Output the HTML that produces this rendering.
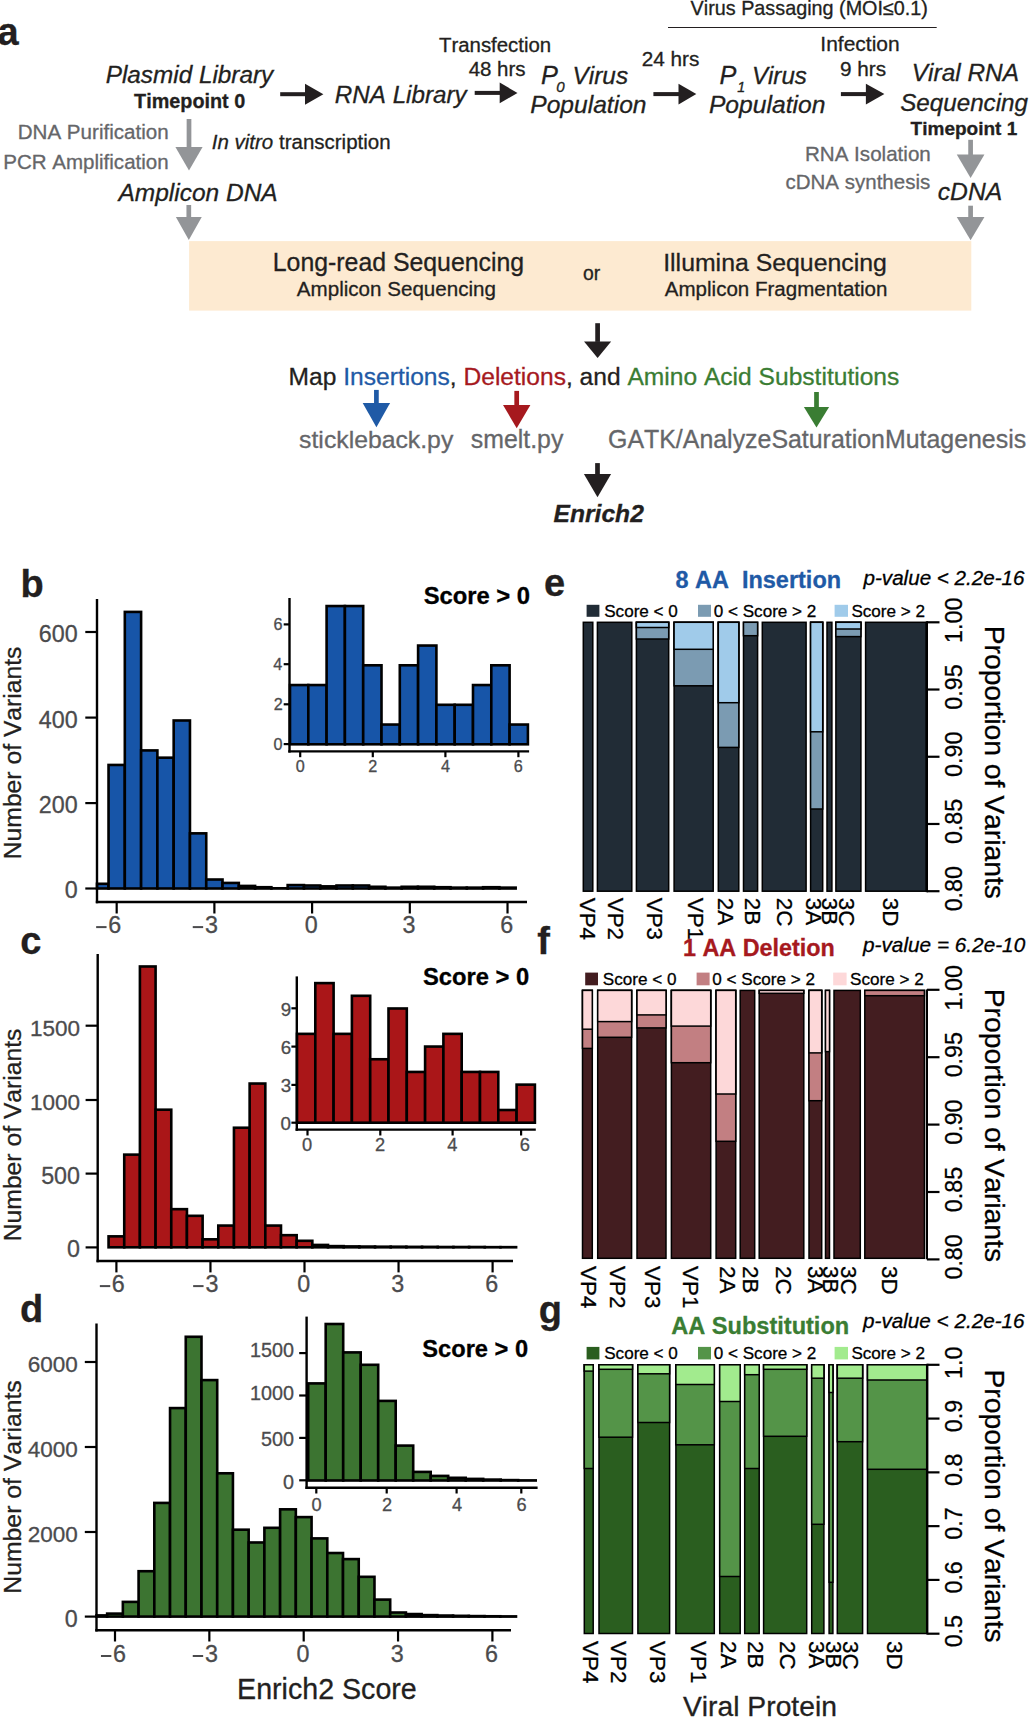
<!DOCTYPE html>
<html><head><meta charset="utf-8"><style>
html,body{margin:0;padding:0;background:#fff;}
svg{display:block;}
text{white-space:pre;font-family:"Liberation Sans",sans-serif;font-kerning:none;}
</style></head><body>
<svg width="1030" height="1717" viewBox="0 0 1030 1717">
<rect width="1030" height="1717" fill="#fff"/>
<text x="-2.48" y="44.65" font-size="38" font-weight="bold" fill="#231f20" stroke="#231f20" stroke-width="0.3">a</text>
<text x="105.75" y="83.40" font-size="24.31" font-weight="normal" font-style="italic" fill="#231f20" stroke="#231f20" stroke-width="0.3">Plasmid Library</text>
<text x="134.08" y="107.70" font-size="19.81" font-weight="bold" font-style="normal" fill="#231f20" stroke="#231f20" stroke-width="0.3">Timepoint 0</text>
<rect x="186.65" y="119.00" width="4.70" height="28.50" fill="#939598"/>
<polygon points="175.40,147.00 202.60,147.00 189.00,170.40" fill="#939598"/>
<text x="17.71" y="138.70" font-size="20.59" font-weight="normal" font-style="normal" fill="#656669" stroke="#656669" stroke-width="0.3">DNA Purification</text>
<text x="3.22" y="169.20" font-size="20.54" font-weight="normal" font-style="normal" fill="#656669" stroke="#656669" stroke-width="0.3">PCR Amplification</text>
<text x="211.76" y="148.5" font-size="20.5" fill="#231f20" stroke="#231f20" stroke-width="0.3"><tspan font-style="italic">In vitro </tspan>transcription</text>
<text x="118.41" y="200.50" font-size="24.50" font-weight="normal" font-style="italic" fill="#231f20" stroke="#231f20" stroke-width="0.3">Amplicon DNA</text>
<rect x="186.45" y="205.00" width="4.70" height="12.40" fill="#939598"/>
<polygon points="175.85,216.90 201.75,216.90 188.80,240.00" fill="#939598"/>
<rect x="280.20" y="92.20" width="25.30" height="4.00" fill="#231f20"/>
<polygon points="305.00,83.70 305.00,104.70 323.40,94.20" fill="#231f20"/>
<text x="334.86" y="102.80" font-size="24.19" font-weight="normal" font-style="italic" fill="#231f20" stroke="#231f20" stroke-width="0.3">RNA Library</text>
<text x="438.94" y="51.80" font-size="20.41" font-weight="normal" font-style="normal" fill="#231f20" stroke="#231f20" stroke-width="0.3">Transfection</text>
<text x="468.63" y="75.90" font-size="20.51" font-weight="normal" font-style="normal" fill="#231f20" stroke="#231f20" stroke-width="0.3">48 hrs</text>
<rect x="474.70" y="90.90" width="25.50" height="4.00" fill="#231f20"/>
<polygon points="499.70,82.60 499.70,103.20 517.50,92.90" fill="#231f20"/>
<text x="541.02" y="83.80" font-size="25.30" font-weight="normal" font-style="italic" fill="#231f20" stroke="#231f20" stroke-width="0.3">P</text>
<text x="556.14" y="92.30" font-size="15.10" font-weight="normal" font-style="italic" fill="#231f20" stroke="#231f20" stroke-width="0.3">0</text>
<text x="572.59" y="83.50" font-size="24.36" font-weight="normal" font-style="italic" fill="#231f20" stroke="#231f20" stroke-width="0.3">Virus</text>
<text x="530.24" y="113.20" font-size="24.62" font-weight="normal" font-style="italic" fill="#231f20" stroke="#231f20" stroke-width="0.3">Population</text>
<text x="690.61" y="14.50" font-size="19.79" font-weight="normal" font-style="normal" fill="#231f20" stroke="#231f20" stroke-width="0.3">Virus Passaging (MOI≤0.1)</text>
<line x1="668.00" y1="27.50" x2="936.70" y2="27.50" stroke="#231f20" stroke-width="1.2" stroke-linecap="butt"/>
<text x="641.66" y="66.30" font-size="20.76" font-weight="normal" font-style="normal" fill="#231f20" stroke="#231f20" stroke-width="0.3">24 hrs</text>
<rect x="653.40" y="92.10" width="25.60" height="4.00" fill="#231f20"/>
<polygon points="678.50,83.70 678.50,104.50 696.30,94.10" fill="#231f20"/>
<text x="719.42" y="83.80" font-size="25.30" font-weight="normal" font-style="italic" fill="#231f20" stroke="#231f20" stroke-width="0.3">P</text>
<text x="737.33" y="91.90" font-size="14.30" font-weight="normal" font-style="italic" fill="#231f20" stroke="#231f20" stroke-width="0.3">1</text>
<text x="751.91" y="83.70" font-size="24.13" font-weight="normal" font-style="italic" fill="#231f20" stroke="#231f20" stroke-width="0.3">Virus</text>
<text x="708.94" y="112.80" font-size="24.65" font-weight="normal" font-style="italic" fill="#231f20" stroke="#231f20" stroke-width="0.3">Population</text>
<text x="820.36" y="51.40" font-size="20.98" font-weight="normal" font-style="normal" fill="#231f20" stroke="#231f20" stroke-width="0.3">Infection</text>
<text x="839.93" y="75.90" font-size="20.75" font-weight="normal" font-style="normal" fill="#231f20" stroke="#231f20" stroke-width="0.3">9 hrs</text>
<rect x="840.90" y="92.10" width="25.50" height="4.00" fill="#231f20"/>
<polygon points="865.90,83.70 865.90,104.50 884.40,94.10" fill="#231f20"/>
<text x="911.79" y="80.80" font-size="24.43" font-weight="normal" font-style="italic" fill="#231f20" stroke="#231f20" stroke-width="0.3">Viral RNA</text>
<text x="900.21" y="110.50" font-size="24.20" font-weight="normal" font-style="italic" fill="#231f20" stroke="#231f20" stroke-width="0.3">Sequencing</text>
<text x="910.59" y="134.80" font-size="19.02" font-weight="bold" font-style="normal" fill="#231f20" stroke="#231f20" stroke-width="0.3">Timepoint 1</text>
<rect x="968.25" y="139.80" width="4.70" height="15.20" fill="#939598"/>
<polygon points="956.75,154.50 984.45,154.50 970.60,177.90" fill="#939598"/>
<text x="804.91" y="161.30" font-size="20.60" font-weight="normal" font-style="normal" fill="#656669" stroke="#656669" stroke-width="0.3">RNA Isolation</text>
<text x="785.53" y="189.00" font-size="20.50" font-weight="normal" font-style="normal" fill="#656669" stroke="#656669" stroke-width="0.3">cDNA synthesis</text>
<text x="937.79" y="199.90" font-size="24.67" font-weight="normal" font-style="italic" fill="#231f20" stroke="#231f20" stroke-width="0.3">cDNA</text>
<rect x="968.25" y="205.70" width="4.70" height="11.80" fill="#939598"/>
<polygon points="956.75,217.00 984.45,217.00 970.60,240.30" fill="#939598"/>
<rect x="189.10" y="241.10" width="782.20" height="69.50" fill="#fdead1"/>
<text x="272.76" y="271.40" font-size="24.85" font-weight="normal" font-style="normal" fill="#231f20" stroke="#231f20" stroke-width="0.3">Long-read Sequencing</text>
<text x="296.86" y="296.10" font-size="20.58" font-weight="normal" font-style="normal" fill="#231f20" stroke="#231f20" stroke-width="0.3">Amplicon Sequencing</text>
<text x="583.09" y="279.80" font-size="19.38" font-weight="normal" font-style="normal" fill="#231f20" stroke="#231f20" stroke-width="0.3">or</text>
<text x="663.21" y="271.30" font-size="24.84" font-weight="normal" font-style="normal" fill="#231f20" stroke="#231f20" stroke-width="0.3">Illumina Sequencing</text>
<text x="664.76" y="296.00" font-size="20.56" font-weight="normal" font-style="normal" fill="#231f20" stroke="#231f20" stroke-width="0.3">Amplicon Fragmentation</text>
<rect x="595.25" y="323.20" width="4.70" height="18.70" fill="#231f20"/>
<polygon points="584.05,341.40 611.15,341.40 597.60,357.90" fill="#231f20"/>
<text x="288.58" y="385.3" font-size="24.59"><tspan fill="#231f20" stroke="#231f20" stroke-width="0.3">Map </tspan><tspan fill="#1f5aa6" stroke="#1f5aa6" stroke-width="0.3">Insertions</tspan><tspan fill="#231f20" stroke="#231f20" stroke-width="0.3">, </tspan><tspan fill="#a6191e" stroke="#a6191e" stroke-width="0.3">Deletions</tspan><tspan fill="#231f20" stroke="#231f20" stroke-width="0.3">, and </tspan><tspan fill="#3a7d33" stroke="#3a7d33" stroke-width="0.3">Amino Acid Substitutions</tspan></text>
<rect x="374.05" y="389.90" width="4.70" height="13.70" fill="#1f5aa6"/>
<polygon points="362.70,403.10 390.10,403.10 376.40,427.20" fill="#1f5aa6"/>
<rect x="514.35" y="390.90" width="4.70" height="14.60" fill="#a6191e"/>
<polygon points="503.00,405.00 530.40,405.00 516.70,428.20" fill="#a6191e"/>
<rect x="814.15" y="392.00" width="4.70" height="15.50" fill="#3a7d33"/>
<polygon points="803.90,407.00 829.10,407.00 816.50,427.60" fill="#3a7d33"/>
<text x="299.11" y="448.00" font-size="24.78" font-weight="normal" font-style="normal" fill="#656669" stroke="#656669" stroke-width="0.3">stickleback.py</text>
<text x="470.81" y="448.00" font-size="24.86" font-weight="normal" font-style="normal" fill="#656669" stroke="#656669" stroke-width="0.3">smelt.py</text>
<text x="608.05" y="448.10" font-size="24.92" font-weight="normal" font-style="normal" fill="#656669" stroke="#656669" stroke-width="0.3">GATK/AnalyzeSaturationMutagenesis</text>
<rect x="595.15" y="463.10" width="4.70" height="11.40" fill="#231f20"/>
<polygon points="583.90,474.00 611.10,474.00 597.50,497.30" fill="#231f20"/>
<text x="553.57" y="522.40" font-size="24.61" font-weight="bold" font-style="italic" fill="#231f20" stroke="#231f20" stroke-width="0.3">Enrich2</text>
<text x="20.62" y="596.64" font-size="38" font-weight="bold" fill="#231f20" stroke="#231f20" stroke-width="0.3">b</text>
<rect x="97.00" y="883.80" width="11.54" height="4.70" fill="#1755a8" stroke="#000" stroke-width="2.6"/>
<rect x="108.54" y="764.95" width="16.28" height="123.55" fill="#1755a8" stroke="#000" stroke-width="2.6"/>
<rect x="124.82" y="611.91" width="16.28" height="276.59" fill="#1755a8" stroke="#000" stroke-width="2.6"/>
<rect x="141.11" y="750.42" width="16.28" height="138.08" fill="#1755a8" stroke="#000" stroke-width="2.6"/>
<rect x="157.39" y="757.68" width="16.28" height="130.82" fill="#1755a8" stroke="#000" stroke-width="2.6"/>
<rect x="173.68" y="720.49" width="16.28" height="168.01" fill="#1755a8" stroke="#000" stroke-width="2.6"/>
<rect x="189.96" y="833.35" width="16.28" height="55.15" fill="#1755a8" stroke="#000" stroke-width="2.6"/>
<rect x="206.25" y="879.52" width="16.28" height="8.98" fill="#1755a8" stroke="#000" stroke-width="2.6"/>
<rect x="222.53" y="882.94" width="16.28" height="5.56" fill="#1755a8" stroke="#000" stroke-width="2.6"/>
<rect x="238.82" y="885.93" width="16.28" height="2.57" fill="#1755a8" stroke="#000" stroke-width="2.6"/>
<rect x="255.10" y="887.22" width="16.29" height="1.28" fill="#1755a8" stroke="#000" stroke-width="2.6"/>
<rect x="271.39" y="888.29" width="16.29" height="0.21" fill="#1755a8" stroke="#000" stroke-width="2.6"/>
<rect x="287.67" y="885.08" width="16.29" height="3.42" fill="#1755a8" stroke="#000" stroke-width="2.6"/>
<rect x="303.96" y="885.51" width="16.29" height="2.99" fill="#1755a8" stroke="#000" stroke-width="2.6"/>
<rect x="320.24" y="886.36" width="16.29" height="2.14" fill="#1755a8" stroke="#000" stroke-width="2.6"/>
<rect x="336.53" y="885.51" width="16.29" height="2.99" fill="#1755a8" stroke="#000" stroke-width="2.6"/>
<rect x="352.81" y="885.51" width="16.29" height="2.99" fill="#1755a8" stroke="#000" stroke-width="2.6"/>
<rect x="369.10" y="886.79" width="16.29" height="1.71" fill="#1755a8" stroke="#000" stroke-width="2.6"/>
<rect x="385.38" y="887.64" width="16.29" height="0.86" fill="#1755a8" stroke="#000" stroke-width="2.6"/>
<rect x="401.67" y="886.79" width="16.29" height="1.71" fill="#1755a8" stroke="#000" stroke-width="2.6"/>
<rect x="417.95" y="886.79" width="16.29" height="1.71" fill="#1755a8" stroke="#000" stroke-width="2.6"/>
<rect x="434.24" y="887.22" width="16.29" height="1.28" fill="#1755a8" stroke="#000" stroke-width="2.6"/>
<rect x="450.52" y="887.64" width="16.29" height="0.86" fill="#1755a8" stroke="#000" stroke-width="2.6"/>
<rect x="466.81" y="887.64" width="16.29" height="0.86" fill="#1755a8" stroke="#000" stroke-width="2.6"/>
<rect x="483.09" y="887.22" width="16.29" height="1.28" fill="#1755a8" stroke="#000" stroke-width="2.6"/>
<rect x="499.38" y="887.64" width="16.28" height="0.86" fill="#1755a8" stroke="#000" stroke-width="2.6"/>
<line x1="97.00" y1="599.00" x2="97.00" y2="903.20" stroke="#000" stroke-width="2.4" stroke-linecap="butt"/>
<line x1="95.80" y1="902.00" x2="527.00" y2="902.00" stroke="#000" stroke-width="2.4" stroke-linecap="butt"/>
<line x1="85.30" y1="888.50" x2="97.00" y2="888.50" stroke="#000" stroke-width="2.2" stroke-linecap="butt"/>
<text x="64.75" y="898.40" font-size="23.30" font-weight="normal" font-style="normal" fill="#4b4b4d" stroke="#4b4b4d" stroke-width="0.3">0</text>
<line x1="85.30" y1="803.10" x2="97.00" y2="803.10" stroke="#000" stroke-width="2.2" stroke-linecap="butt"/>
<text x="38.84" y="813.00" font-size="23.30" font-weight="normal" font-style="normal" fill="#4b4b4d" stroke="#4b4b4d" stroke-width="0.3">200</text>
<line x1="85.30" y1="717.60" x2="97.00" y2="717.60" stroke="#000" stroke-width="2.2" stroke-linecap="butt"/>
<text x="38.84" y="727.50" font-size="23.30" font-weight="normal" font-style="normal" fill="#4b4b4d" stroke="#4b4b4d" stroke-width="0.3">400</text>
<line x1="85.30" y1="632.00" x2="97.00" y2="632.00" stroke="#000" stroke-width="2.2" stroke-linecap="butt"/>
<text x="38.84" y="641.90" font-size="23.30" font-weight="normal" font-style="normal" fill="#4b4b4d" stroke="#4b4b4d" stroke-width="0.3">600</text>
<line x1="116.68" y1="902.00" x2="116.68" y2="913.50" stroke="#000" stroke-width="2.2" stroke-linecap="butt"/>
<text x="108.17" y="933.00" font-size="23.30" font-weight="normal" font-style="normal" fill="#4b4b4d" stroke="#4b4b4d" stroke-width="0.3">6</text>
<rect x="96.15" y="926.10" width="10.40" height="2.00" fill="#4b4b4d"/>
<line x1="214.39" y1="902.00" x2="214.39" y2="913.50" stroke="#000" stroke-width="2.2" stroke-linecap="butt"/>
<text x="205.07" y="933.00" font-size="23.30" font-weight="normal" font-style="normal" fill="#4b4b4d" stroke="#4b4b4d" stroke-width="0.3">3</text>
<rect x="192.75" y="926.10" width="10.40" height="2.00" fill="#4b4b4d"/>
<line x1="312.10" y1="902.00" x2="312.10" y2="913.50" stroke="#000" stroke-width="2.2" stroke-linecap="butt"/>
<text x="304.82" y="933.00" font-size="23.30" font-weight="normal" font-style="normal" fill="#4b4b4d" stroke="#4b4b4d" stroke-width="0.3">0</text>
<line x1="409.81" y1="902.00" x2="409.81" y2="913.50" stroke="#000" stroke-width="2.2" stroke-linecap="butt"/>
<text x="402.60" y="933.00" font-size="23.30" font-weight="normal" font-style="normal" fill="#4b4b4d" stroke="#4b4b4d" stroke-width="0.3">3</text>
<line x1="507.52" y1="902.00" x2="507.52" y2="913.50" stroke="#000" stroke-width="2.2" stroke-linecap="butt"/>
<text x="500.16" y="933.00" font-size="23.30" font-weight="normal" font-style="normal" fill="#4b4b4d" stroke="#4b4b4d" stroke-width="0.3">6</text>
<rect x="290.00" y="685.05" width="18.30" height="59.25" fill="#1755a8" stroke="#000" stroke-width="2.6"/>
<rect x="308.30" y="685.05" width="18.30" height="59.25" fill="#1755a8" stroke="#000" stroke-width="2.6"/>
<rect x="326.60" y="606.05" width="18.30" height="138.25" fill="#1755a8" stroke="#000" stroke-width="2.6"/>
<rect x="344.90" y="606.05" width="18.30" height="138.25" fill="#1755a8" stroke="#000" stroke-width="2.6"/>
<rect x="363.20" y="665.30" width="18.30" height="79.00" fill="#1755a8" stroke="#000" stroke-width="2.6"/>
<rect x="381.50" y="724.55" width="18.30" height="19.75" fill="#1755a8" stroke="#000" stroke-width="2.6"/>
<rect x="399.80" y="665.30" width="18.30" height="79.00" fill="#1755a8" stroke="#000" stroke-width="2.6"/>
<rect x="418.10" y="645.55" width="18.30" height="98.75" fill="#1755a8" stroke="#000" stroke-width="2.6"/>
<rect x="436.40" y="704.80" width="18.30" height="39.50" fill="#1755a8" stroke="#000" stroke-width="2.6"/>
<rect x="454.70" y="704.80" width="18.30" height="39.50" fill="#1755a8" stroke="#000" stroke-width="2.6"/>
<rect x="473.00" y="685.05" width="18.30" height="59.25" fill="#1755a8" stroke="#000" stroke-width="2.6"/>
<rect x="491.30" y="665.30" width="18.30" height="79.00" fill="#1755a8" stroke="#000" stroke-width="2.6"/>
<rect x="509.60" y="724.55" width="18.30" height="19.75" fill="#1755a8" stroke="#000" stroke-width="2.6"/>
<line x1="289.50" y1="598.00" x2="289.50" y2="752.60" stroke="#000" stroke-width="2.4" stroke-linecap="butt"/>
<line x1="288.30" y1="751.40" x2="529.10" y2="751.40" stroke="#000" stroke-width="2.4" stroke-linecap="butt"/>
<line x1="283.70" y1="744.10" x2="289.50" y2="744.10" stroke="#000" stroke-width="2.2" stroke-linecap="butt"/>
<text x="273.52" y="749.70" font-size="16.20" font-weight="normal" font-style="normal" fill="#4b4b4d" stroke="#4b4b4d" stroke-width="0.3">0</text>
<line x1="283.70" y1="704.30" x2="289.50" y2="704.30" stroke="#000" stroke-width="2.2" stroke-linecap="butt"/>
<text x="273.71" y="709.90" font-size="16.20" font-weight="normal" font-style="normal" fill="#4b4b4d" stroke="#4b4b4d" stroke-width="0.3">2</text>
<line x1="283.70" y1="664.20" x2="289.50" y2="664.20" stroke="#000" stroke-width="2.2" stroke-linecap="butt"/>
<text x="273.36" y="669.80" font-size="16.20" font-weight="normal" font-style="normal" fill="#4b4b4d" stroke="#4b4b4d" stroke-width="0.3">4</text>
<line x1="283.70" y1="624.40" x2="289.50" y2="624.40" stroke="#000" stroke-width="2.2" stroke-linecap="butt"/>
<text x="273.60" y="630.00" font-size="16.20" font-weight="normal" font-style="normal" fill="#4b4b4d" stroke="#4b4b4d" stroke-width="0.3">6</text>
<line x1="300.20" y1="751.40" x2="300.20" y2="757.20" stroke="#000" stroke-width="2.2" stroke-linecap="butt"/>
<text x="295.70" y="771.50" font-size="16.20" font-weight="normal" font-style="normal" fill="#4b4b4d" stroke="#4b4b4d" stroke-width="0.3">0</text>
<line x1="372.80" y1="751.40" x2="372.80" y2="757.20" stroke="#000" stroke-width="2.2" stroke-linecap="butt"/>
<text x="368.30" y="771.50" font-size="16.20" font-weight="normal" font-style="normal" fill="#4b4b4d" stroke="#4b4b4d" stroke-width="0.3">2</text>
<line x1="445.40" y1="751.40" x2="445.40" y2="757.20" stroke="#000" stroke-width="2.2" stroke-linecap="butt"/>
<text x="440.95" y="771.50" font-size="16.20" font-weight="normal" font-style="normal" fill="#4b4b4d" stroke="#4b4b4d" stroke-width="0.3">4</text>
<line x1="518.40" y1="751.40" x2="518.40" y2="757.20" stroke="#000" stroke-width="2.2" stroke-linecap="butt"/>
<text x="513.84" y="771.50" font-size="16.20" font-weight="normal" font-style="normal" fill="#4b4b4d" stroke="#4b4b4d" stroke-width="0.3">6</text>
<text x="423.72" y="604.00" font-size="23.77" font-weight="bold" font-style="normal" fill="#000" stroke="#000" stroke-width="0.3">Score &gt; 0</text>
<text transform="translate(21.40,859.23) rotate(-90)" font-size="24.70" font-weight="normal" font-style="normal" fill="#231f20" stroke="#231f20" stroke-width="0.3">Number of Variants</text>
<text x="20.30" y="953.55" font-size="38" font-weight="bold" fill="#231f20" stroke="#231f20" stroke-width="0.3">c</text>
<rect x="108.56" y="1236.36" width="15.67" height="10.94" fill="#aa1618" stroke="#000" stroke-width="2.6"/>
<rect x="124.24" y="1154.63" width="15.67" height="92.67" fill="#aa1618" stroke="#000" stroke-width="2.6"/>
<rect x="139.91" y="966.48" width="15.68" height="280.82" fill="#aa1618" stroke="#000" stroke-width="2.6"/>
<rect x="155.59" y="1109.70" width="15.68" height="137.60" fill="#aa1618" stroke="#000" stroke-width="2.6"/>
<rect x="171.26" y="1209.17" width="15.68" height="38.13" fill="#aa1618" stroke="#000" stroke-width="2.6"/>
<rect x="186.94" y="1215.82" width="15.68" height="31.48" fill="#aa1618" stroke="#000" stroke-width="2.6"/>
<rect x="202.61" y="1239.32" width="15.68" height="7.98" fill="#aa1618" stroke="#000" stroke-width="2.6"/>
<rect x="218.29" y="1225.57" width="15.68" height="21.73" fill="#aa1618" stroke="#000" stroke-width="2.6"/>
<rect x="233.96" y="1127.73" width="15.68" height="119.57" fill="#aa1618" stroke="#000" stroke-width="2.6"/>
<rect x="249.64" y="1083.54" width="15.67" height="163.76" fill="#aa1618" stroke="#000" stroke-width="2.6"/>
<rect x="265.31" y="1225.57" width="15.68" height="21.73" fill="#aa1618" stroke="#000" stroke-width="2.6"/>
<rect x="280.99" y="1235.18" width="15.68" height="12.12" fill="#aa1618" stroke="#000" stroke-width="2.6"/>
<rect x="296.66" y="1240.80" width="15.68" height="6.50" fill="#aa1618" stroke="#000" stroke-width="2.6"/>
<rect x="312.34" y="1244.94" width="15.68" height="2.36" fill="#aa1618" stroke="#000" stroke-width="2.6"/>
<rect x="328.01" y="1246.12" width="15.68" height="1.18" fill="#aa1618" stroke="#000" stroke-width="2.6"/>
<rect x="343.69" y="1246.41" width="15.68" height="0.89" fill="#aa1618" stroke="#000" stroke-width="2.6"/>
<rect x="359.36" y="1246.56" width="15.68" height="0.74" fill="#aa1618" stroke="#000" stroke-width="2.6"/>
<rect x="375.04" y="1246.71" width="15.68" height="0.59" fill="#aa1618" stroke="#000" stroke-width="2.6"/>
<rect x="390.71" y="1246.71" width="15.68" height="0.59" fill="#aa1618" stroke="#000" stroke-width="2.6"/>
<rect x="406.39" y="1246.86" width="15.68" height="0.44" fill="#aa1618" stroke="#000" stroke-width="2.6"/>
<rect x="422.06" y="1246.86" width="15.68" height="0.44" fill="#aa1618" stroke="#000" stroke-width="2.6"/>
<rect x="437.74" y="1247.00" width="15.68" height="0.30" fill="#aa1618" stroke="#000" stroke-width="2.6"/>
<rect x="453.41" y="1247.00" width="15.68" height="0.30" fill="#aa1618" stroke="#000" stroke-width="2.6"/>
<rect x="469.09" y="1247.00" width="15.68" height="0.30" fill="#aa1618" stroke="#000" stroke-width="2.6"/>
<rect x="484.76" y="1247.15" width="15.68" height="0.15" fill="#aa1618" stroke="#000" stroke-width="2.6"/>
<rect x="500.44" y="1247.15" width="15.67" height="0.15" fill="#aa1618" stroke="#000" stroke-width="2.6"/>
<line x1="97.70" y1="954.00" x2="97.70" y2="1262.20" stroke="#000" stroke-width="2.4" stroke-linecap="butt"/>
<line x1="96.50" y1="1261.00" x2="513.00" y2="1261.00" stroke="#000" stroke-width="2.4" stroke-linecap="butt"/>
<line x1="85.60" y1="1247.40" x2="97.70" y2="1247.40" stroke="#000" stroke-width="2.2" stroke-linecap="butt"/>
<text x="67.05" y="1257.40" font-size="23.30" font-weight="normal" font-style="normal" fill="#4b4b4d" stroke="#4b4b4d" stroke-width="0.3">0</text>
<line x1="85.60" y1="1173.60" x2="97.70" y2="1173.60" stroke="#000" stroke-width="2.2" stroke-linecap="butt"/>
<text x="41.14" y="1183.60" font-size="23.30" font-weight="normal" font-style="normal" fill="#4b4b4d" stroke="#4b4b4d" stroke-width="0.3">500</text>
<line x1="85.60" y1="1100.00" x2="97.70" y2="1100.00" stroke="#000" stroke-width="2.2" stroke-linecap="butt"/>
<text x="29.93" y="1110.00" font-size="22.50" font-weight="normal" font-style="normal" fill="#4b4b4d" stroke="#4b4b4d" stroke-width="0.3">1000</text>
<line x1="85.60" y1="1025.70" x2="97.70" y2="1025.70" stroke="#000" stroke-width="2.2" stroke-linecap="butt"/>
<text x="29.93" y="1035.70" font-size="22.50" font-weight="normal" font-style="normal" fill="#4b4b4d" stroke="#4b4b4d" stroke-width="0.3">1500</text>
<line x1="116.40" y1="1261.00" x2="116.40" y2="1272.40" stroke="#000" stroke-width="2.2" stroke-linecap="butt"/>
<text x="111.87" y="1292.00" font-size="23.30" font-weight="normal" font-style="normal" fill="#4b4b4d" stroke="#4b4b4d" stroke-width="0.3">6</text>
<rect x="99.85" y="1285.10" width="10.40" height="2.00" fill="#4b4b4d"/>
<line x1="210.45" y1="1261.00" x2="210.45" y2="1272.40" stroke="#000" stroke-width="2.2" stroke-linecap="butt"/>
<text x="205.47" y="1292.00" font-size="23.30" font-weight="normal" font-style="normal" fill="#4b4b4d" stroke="#4b4b4d" stroke-width="0.3">3</text>
<rect x="193.15" y="1285.10" width="10.40" height="2.00" fill="#4b4b4d"/>
<line x1="304.50" y1="1261.00" x2="304.50" y2="1272.40" stroke="#000" stroke-width="2.2" stroke-linecap="butt"/>
<text x="297.22" y="1292.00" font-size="23.30" font-weight="normal" font-style="normal" fill="#4b4b4d" stroke="#4b4b4d" stroke-width="0.3">0</text>
<line x1="398.55" y1="1261.00" x2="398.55" y2="1272.40" stroke="#000" stroke-width="2.2" stroke-linecap="butt"/>
<text x="391.34" y="1292.00" font-size="23.30" font-weight="normal" font-style="normal" fill="#4b4b4d" stroke="#4b4b4d" stroke-width="0.3">3</text>
<line x1="492.60" y1="1261.00" x2="492.60" y2="1272.40" stroke="#000" stroke-width="2.2" stroke-linecap="butt"/>
<text x="485.24" y="1292.00" font-size="23.30" font-weight="normal" font-style="normal" fill="#4b4b4d" stroke="#4b4b4d" stroke-width="0.3">6</text>
<rect x="297.00" y="1033.87" width="18.30" height="88.83" fill="#aa1618" stroke="#000" stroke-width="2.6"/>
<rect x="315.30" y="983.11" width="18.30" height="139.59" fill="#aa1618" stroke="#000" stroke-width="2.6"/>
<rect x="333.60" y="1033.87" width="18.30" height="88.83" fill="#aa1618" stroke="#000" stroke-width="2.6"/>
<rect x="351.90" y="995.80" width="18.30" height="126.90" fill="#aa1618" stroke="#000" stroke-width="2.6"/>
<rect x="370.20" y="1059.25" width="18.30" height="63.45" fill="#aa1618" stroke="#000" stroke-width="2.6"/>
<rect x="388.50" y="1008.49" width="18.30" height="114.21" fill="#aa1618" stroke="#000" stroke-width="2.6"/>
<rect x="406.80" y="1071.94" width="18.30" height="50.76" fill="#aa1618" stroke="#000" stroke-width="2.6"/>
<rect x="425.10" y="1046.56" width="18.30" height="76.14" fill="#aa1618" stroke="#000" stroke-width="2.6"/>
<rect x="443.40" y="1033.87" width="18.30" height="88.83" fill="#aa1618" stroke="#000" stroke-width="2.6"/>
<rect x="461.70" y="1071.94" width="18.30" height="50.76" fill="#aa1618" stroke="#000" stroke-width="2.6"/>
<rect x="480.00" y="1071.94" width="18.30" height="50.76" fill="#aa1618" stroke="#000" stroke-width="2.6"/>
<rect x="498.30" y="1110.01" width="18.30" height="12.69" fill="#aa1618" stroke="#000" stroke-width="2.6"/>
<rect x="516.60" y="1084.63" width="18.30" height="38.07" fill="#aa1618" stroke="#000" stroke-width="2.6"/>
<line x1="296.80" y1="976.40" x2="296.80" y2="1130.80" stroke="#000" stroke-width="2.4" stroke-linecap="butt"/>
<line x1="295.60" y1="1129.60" x2="535.80" y2="1129.60" stroke="#000" stroke-width="2.4" stroke-linecap="butt"/>
<line x1="291.40" y1="1122.70" x2="296.80" y2="1122.70" stroke="#000" stroke-width="2.2" stroke-linecap="butt"/>
<text x="280.58" y="1130.00" font-size="18.80" font-weight="normal" font-style="normal" fill="#4b4b4d" stroke="#4b4b4d" stroke-width="0.3">0</text>
<line x1="291.40" y1="1084.90" x2="296.80" y2="1084.90" stroke="#000" stroke-width="2.2" stroke-linecap="butt"/>
<text x="280.67" y="1092.20" font-size="18.80" font-weight="normal" font-style="normal" fill="#4b4b4d" stroke="#4b4b4d" stroke-width="0.3">3</text>
<line x1="291.40" y1="1046.60" x2="296.80" y2="1046.60" stroke="#000" stroke-width="2.2" stroke-linecap="butt"/>
<text x="280.67" y="1053.90" font-size="18.80" font-weight="normal" font-style="normal" fill="#4b4b4d" stroke="#4b4b4d" stroke-width="0.3">6</text>
<line x1="291.40" y1="1008.30" x2="296.80" y2="1008.30" stroke="#000" stroke-width="2.2" stroke-linecap="butt"/>
<text x="280.73" y="1015.60" font-size="18.80" font-weight="normal" font-style="normal" fill="#4b4b4d" stroke="#4b4b4d" stroke-width="0.3">9</text>
<line x1="307.50" y1="1129.60" x2="307.50" y2="1135.50" stroke="#000" stroke-width="2.2" stroke-linecap="butt"/>
<text x="302.11" y="1151.20" font-size="18.30" font-weight="normal" font-style="normal" fill="#4b4b4d" stroke="#4b4b4d" stroke-width="0.3">0</text>
<line x1="380.30" y1="1129.60" x2="380.30" y2="1135.50" stroke="#000" stroke-width="2.2" stroke-linecap="butt"/>
<text x="374.91" y="1151.20" font-size="18.30" font-weight="normal" font-style="normal" fill="#4b4b4d" stroke="#4b4b4d" stroke-width="0.3">2</text>
<line x1="452.60" y1="1129.60" x2="452.60" y2="1135.50" stroke="#000" stroke-width="2.2" stroke-linecap="butt"/>
<text x="447.27" y="1151.20" font-size="18.30" font-weight="normal" font-style="normal" fill="#4b4b4d" stroke="#4b4b4d" stroke-width="0.3">4</text>
<line x1="521.10" y1="1129.60" x2="521.10" y2="1135.50" stroke="#000" stroke-width="2.2" stroke-linecap="butt"/>
<text x="519.85" y="1151.20" font-size="18.30" font-weight="normal" font-style="normal" fill="#4b4b4d" stroke="#4b4b4d" stroke-width="0.3">6</text>
<text x="422.92" y="985.30" font-size="23.74" font-weight="bold" font-style="normal" fill="#000" stroke="#000" stroke-width="0.3">Score &gt; 0</text>
<text transform="translate(21.40,1241.23) rotate(-90)" font-size="24.70" font-weight="normal" font-style="normal" fill="#231f20" stroke="#231f20" stroke-width="0.3">Number of Variants</text>
<text x="20.07" y="1321.84" font-size="38" font-weight="bold" fill="#231f20" stroke="#231f20" stroke-width="0.3">d</text>
<rect x="96.50" y="1615.41" width="10.64" height="1.19" fill="#3c7431" stroke="#000" stroke-width="2.6"/>
<rect x="107.14" y="1613.62" width="15.72" height="2.97" fill="#3c7431" stroke="#000" stroke-width="2.6"/>
<rect x="122.86" y="1601.89" width="15.73" height="14.70" fill="#3c7431" stroke="#000" stroke-width="2.6"/>
<rect x="138.59" y="1571.21" width="15.72" height="45.39" fill="#3c7431" stroke="#000" stroke-width="2.6"/>
<rect x="154.31" y="1502.91" width="15.72" height="113.69" fill="#3c7431" stroke="#000" stroke-width="2.6"/>
<rect x="170.04" y="1408.09" width="15.72" height="208.51" fill="#3c7431" stroke="#000" stroke-width="2.6"/>
<rect x="185.76" y="1336.78" width="15.72" height="279.82" fill="#3c7431" stroke="#000" stroke-width="2.6"/>
<rect x="201.49" y="1380.09" width="15.72" height="236.51" fill="#3c7431" stroke="#000" stroke-width="2.6"/>
<rect x="217.21" y="1473.29" width="15.72" height="143.31" fill="#3c7431" stroke="#000" stroke-width="2.6"/>
<rect x="232.94" y="1529.69" width="15.72" height="86.91" fill="#3c7431" stroke="#000" stroke-width="2.6"/>
<rect x="248.66" y="1542.48" width="15.72" height="74.12" fill="#3c7431" stroke="#000" stroke-width="2.6"/>
<rect x="264.39" y="1527.82" width="15.73" height="88.78" fill="#3c7431" stroke="#000" stroke-width="2.6"/>
<rect x="280.11" y="1509.33" width="15.73" height="107.27" fill="#3c7431" stroke="#000" stroke-width="2.6"/>
<rect x="295.84" y="1517.11" width="15.73" height="99.49" fill="#3c7431" stroke="#000" stroke-width="2.6"/>
<rect x="311.56" y="1538.40" width="15.73" height="78.20" fill="#3c7431" stroke="#000" stroke-width="2.6"/>
<rect x="327.29" y="1553.02" width="15.73" height="63.58" fill="#3c7431" stroke="#000" stroke-width="2.6"/>
<rect x="343.01" y="1559.10" width="15.73" height="57.50" fill="#3c7431" stroke="#000" stroke-width="2.6"/>
<rect x="358.74" y="1576.82" width="15.73" height="39.78" fill="#3c7431" stroke="#000" stroke-width="2.6"/>
<rect x="374.46" y="1599.60" width="15.73" height="17.00" fill="#3c7431" stroke="#000" stroke-width="2.6"/>
<rect x="390.19" y="1612.52" width="15.73" height="4.08" fill="#3c7431" stroke="#000" stroke-width="2.6"/>
<rect x="405.91" y="1614.05" width="15.73" height="2.55" fill="#3c7431" stroke="#000" stroke-width="2.6"/>
<rect x="421.64" y="1615.11" width="15.73" height="1.49" fill="#3c7431" stroke="#000" stroke-width="2.6"/>
<rect x="437.36" y="1615.54" width="15.73" height="1.06" fill="#3c7431" stroke="#000" stroke-width="2.6"/>
<rect x="453.09" y="1615.83" width="15.73" height="0.77" fill="#3c7431" stroke="#000" stroke-width="2.6"/>
<rect x="468.81" y="1616.09" width="15.73" height="0.51" fill="#3c7431" stroke="#000" stroke-width="2.6"/>
<rect x="484.54" y="1616.26" width="15.73" height="0.34" fill="#3c7431" stroke="#000" stroke-width="2.6"/>
<rect x="500.26" y="1616.39" width="15.73" height="0.21" fill="#3c7431" stroke="#000" stroke-width="2.6"/>
<line x1="96.50" y1="1323.50" x2="96.50" y2="1631.50" stroke="#000" stroke-width="2.4" stroke-linecap="butt"/>
<line x1="95.30" y1="1630.30" x2="511.00" y2="1630.30" stroke="#000" stroke-width="2.4" stroke-linecap="butt"/>
<line x1="84.80" y1="1616.60" x2="96.50" y2="1616.60" stroke="#000" stroke-width="2.2" stroke-linecap="butt"/>
<text x="64.85" y="1626.50" font-size="23.30" font-weight="normal" font-style="normal" fill="#4b4b4d" stroke="#4b4b4d" stroke-width="0.3">0</text>
<line x1="84.80" y1="1532.00" x2="96.50" y2="1532.00" stroke="#000" stroke-width="2.2" stroke-linecap="butt"/>
<text x="27.73" y="1541.90" font-size="22.50" font-weight="normal" font-style="normal" fill="#4b4b4d" stroke="#4b4b4d" stroke-width="0.3">2000</text>
<line x1="84.80" y1="1447.00" x2="96.50" y2="1447.00" stroke="#000" stroke-width="2.2" stroke-linecap="butt"/>
<text x="27.73" y="1456.90" font-size="22.50" font-weight="normal" font-style="normal" fill="#4b4b4d" stroke="#4b4b4d" stroke-width="0.3">4000</text>
<line x1="84.80" y1="1362.00" x2="96.50" y2="1362.00" stroke="#000" stroke-width="2.2" stroke-linecap="butt"/>
<text x="27.73" y="1371.90" font-size="22.50" font-weight="normal" font-style="normal" fill="#4b4b4d" stroke="#4b4b4d" stroke-width="0.3">6000</text>
<line x1="115.00" y1="1630.30" x2="115.00" y2="1641.50" stroke="#000" stroke-width="2.2" stroke-linecap="butt"/>
<text x="112.97" y="1661.90" font-size="23.30" font-weight="normal" font-style="normal" fill="#4b4b4d" stroke="#4b4b4d" stroke-width="0.3">6</text>
<rect x="100.95" y="1655.00" width="10.40" height="2.00" fill="#4b4b4d"/>
<line x1="209.35" y1="1630.30" x2="209.35" y2="1641.50" stroke="#000" stroke-width="2.2" stroke-linecap="butt"/>
<text x="205.07" y="1661.90" font-size="23.30" font-weight="normal" font-style="normal" fill="#4b4b4d" stroke="#4b4b4d" stroke-width="0.3">3</text>
<rect x="192.75" y="1655.00" width="10.40" height="2.00" fill="#4b4b4d"/>
<line x1="303.70" y1="1630.30" x2="303.70" y2="1641.50" stroke="#000" stroke-width="2.2" stroke-linecap="butt"/>
<text x="296.42" y="1661.90" font-size="23.30" font-weight="normal" font-style="normal" fill="#4b4b4d" stroke="#4b4b4d" stroke-width="0.3">0</text>
<line x1="398.05" y1="1630.30" x2="398.05" y2="1641.50" stroke="#000" stroke-width="2.2" stroke-linecap="butt"/>
<text x="390.84" y="1661.90" font-size="23.30" font-weight="normal" font-style="normal" fill="#4b4b4d" stroke="#4b4b4d" stroke-width="0.3">3</text>
<line x1="492.40" y1="1630.30" x2="492.40" y2="1641.50" stroke="#000" stroke-width="2.2" stroke-linecap="butt"/>
<text x="485.04" y="1661.90" font-size="23.30" font-weight="normal" font-style="normal" fill="#4b4b4d" stroke="#4b4b4d" stroke-width="0.3">6</text>
<rect x="308.20" y="1383.40" width="17.50" height="97.10" fill="#3c7431" stroke="#000" stroke-width="2.6"/>
<rect x="325.70" y="1324.00" width="17.50" height="156.50" fill="#3c7431" stroke="#000" stroke-width="2.6"/>
<rect x="343.20" y="1352.40" width="17.50" height="128.10" fill="#3c7431" stroke="#000" stroke-width="2.6"/>
<rect x="360.70" y="1364.80" width="17.50" height="115.70" fill="#3c7431" stroke="#000" stroke-width="2.6"/>
<rect x="378.20" y="1400.90" width="17.50" height="79.60" fill="#3c7431" stroke="#000" stroke-width="2.6"/>
<rect x="395.70" y="1445.60" width="17.50" height="34.90" fill="#3c7431" stroke="#000" stroke-width="2.6"/>
<rect x="413.20" y="1471.90" width="17.50" height="8.60" fill="#3c7431" stroke="#000" stroke-width="2.6"/>
<rect x="430.70" y="1475.90" width="17.50" height="4.60" fill="#3c7431" stroke="#000" stroke-width="2.6"/>
<rect x="448.20" y="1477.80" width="17.50" height="2.70" fill="#3c7431" stroke="#000" stroke-width="2.6"/>
<rect x="465.70" y="1478.90" width="17.50" height="1.60" fill="#3c7431" stroke="#000" stroke-width="2.6"/>
<rect x="483.20" y="1479.60" width="17.50" height="0.90" fill="#3c7431" stroke="#000" stroke-width="2.6"/>
<rect x="500.70" y="1480.10" width="17.50" height="0.40" fill="#3c7431" stroke="#000" stroke-width="2.6"/>
<rect x="518.20" y="1480.40" width="17.50" height="0.10" fill="#3c7431" stroke="#000" stroke-width="2.6"/>
<line x1="306.60" y1="1316.60" x2="306.60" y2="1488.90" stroke="#000" stroke-width="2.4" stroke-linecap="butt"/>
<line x1="305.40" y1="1487.70" x2="537.60" y2="1487.70" stroke="#000" stroke-width="2.4" stroke-linecap="butt"/>
<line x1="299.20" y1="1353.10" x2="306.60" y2="1353.10" stroke="#000" stroke-width="2.2" stroke-linecap="butt"/>
<text x="250.03" y="1357.30" font-size="19.80" font-weight="normal" font-style="normal" fill="#4b4b4d" stroke="#4b4b4d" stroke-width="0.3">1500</text>
<line x1="299.20" y1="1395.50" x2="306.60" y2="1395.50" stroke="#000" stroke-width="2.2" stroke-linecap="butt"/>
<text x="250.03" y="1399.50" font-size="19.80" font-weight="normal" font-style="normal" fill="#4b4b4d" stroke="#4b4b4d" stroke-width="0.3">1000</text>
<line x1="299.20" y1="1437.90" x2="306.60" y2="1437.90" stroke="#000" stroke-width="2.2" stroke-linecap="butt"/>
<text x="261.04" y="1446.10" font-size="19.80" font-weight="normal" font-style="normal" fill="#4b4b4d" stroke="#4b4b4d" stroke-width="0.3">500</text>
<line x1="299.20" y1="1480.30" x2="306.60" y2="1480.30" stroke="#000" stroke-width="2.2" stroke-linecap="butt"/>
<text x="283.06" y="1488.50" font-size="19.80" font-weight="normal" font-style="normal" fill="#4b4b4d" stroke="#4b4b4d" stroke-width="0.3">0</text>
<line x1="316.30" y1="1487.70" x2="316.30" y2="1493.50" stroke="#000" stroke-width="2.2" stroke-linecap="butt"/>
<text x="311.54" y="1511.30" font-size="18.20" font-weight="normal" font-style="normal" fill="#4b4b4d" stroke="#4b4b4d" stroke-width="0.3">0</text>
<line x1="386.70" y1="1487.70" x2="386.70" y2="1493.50" stroke="#000" stroke-width="2.2" stroke-linecap="butt"/>
<text x="381.94" y="1511.30" font-size="18.20" font-weight="normal" font-style="normal" fill="#4b4b4d" stroke="#4b4b4d" stroke-width="0.3">2</text>
<line x1="456.60" y1="1487.70" x2="456.60" y2="1493.50" stroke="#000" stroke-width="2.2" stroke-linecap="butt"/>
<text x="451.90" y="1511.30" font-size="18.20" font-weight="normal" font-style="normal" fill="#4b4b4d" stroke="#4b4b4d" stroke-width="0.3">4</text>
<line x1="521.30" y1="1487.70" x2="521.30" y2="1493.50" stroke="#000" stroke-width="2.2" stroke-linecap="butt"/>
<text x="516.48" y="1511.30" font-size="18.20" font-weight="normal" font-style="normal" fill="#4b4b4d" stroke="#4b4b4d" stroke-width="0.3">6</text>
<text x="422.32" y="1357.30" font-size="23.65" font-weight="bold" font-style="normal" fill="#000" stroke="#000" stroke-width="0.3">Score &gt; 0</text>
<text transform="translate(21.30,1593.73) rotate(-90)" font-size="24.79" font-weight="normal" font-style="normal" fill="#231f20" stroke="#231f20" stroke-width="0.3">Number of Variants</text>
<text x="237.05" y="1699.20" font-size="28.61" font-weight="normal" font-style="normal" fill="#231f20" stroke="#231f20" stroke-width="0.3">Enrich2 Score</text>
<text x="543.89" y="595.75" font-size="38" font-weight="bold" fill="#231f20" stroke="#231f20" stroke-width="0.3">e</text>
<text x="675.46" y="587.70" font-size="23.47" font-weight="bold" font-style="normal" fill="#1f5aa6" stroke="#1f5aa6" stroke-width="0.3">8 AA  Insertion</text>
<text x="863.51" y="585.10" font-size="20.62" font-weight="normal" font-style="italic" fill="#000" stroke="#000" stroke-width="0.3">p-value &lt; 2.2e-16</text>
<rect x="583.30" y="622.30" width="9.50" height="268.90" fill="#212c36" stroke="#000" stroke-width="1.5"/>
<text transform="translate(579.60,897.70) rotate(90)" font-size="22.40" fill="#000" stroke="#000" stroke-width="0.3">VP4</text>
<rect x="597.40" y="622.30" width="34.40" height="268.90" fill="#212c36" stroke="#000" stroke-width="1.5"/>
<text transform="translate(608.40,897.70) rotate(90)" font-size="22.40" fill="#000" stroke="#000" stroke-width="0.3">VP2</text>
<rect x="636.40" y="622.30" width="32.30" height="268.90" fill="#212c36" stroke="#000" stroke-width="1.5"/>
<rect x="636.40" y="622.30" width="32.30" height="16.70" fill="#7b9bb2" stroke="#000" stroke-width="1.5"/>
<rect x="636.40" y="622.30" width="32.30" height="5.20" fill="#a0cbea" stroke="#000" stroke-width="1.5"/>
<text transform="translate(646.60,897.70) rotate(90)" font-size="22.40" fill="#000" stroke="#000" stroke-width="0.3">VP3</text>
<rect x="674.10" y="622.30" width="39.10" height="268.90" fill="#212c36" stroke="#000" stroke-width="1.5"/>
<rect x="674.10" y="622.30" width="39.10" height="63.50" fill="#7b9bb2" stroke="#000" stroke-width="1.5"/>
<rect x="674.10" y="622.30" width="39.10" height="27.00" fill="#a0cbea" stroke="#000" stroke-width="1.5"/>
<text transform="translate(687.60,897.70) rotate(90)" font-size="22.40" fill="#000" stroke="#000" stroke-width="0.3">VP1</text>
<rect x="718.30" y="622.30" width="20.50" height="268.90" fill="#212c36" stroke="#000" stroke-width="1.5"/>
<rect x="718.30" y="622.30" width="20.50" height="125.10" fill="#7b9bb2" stroke="#000" stroke-width="1.5"/>
<rect x="718.30" y="622.30" width="20.50" height="80.40" fill="#a0cbea" stroke="#000" stroke-width="1.5"/>
<text transform="translate(717.90,897.70) rotate(90)" font-size="22.40" fill="#000" stroke="#000" stroke-width="0.3">2A</text>
<rect x="743.50" y="622.30" width="14.10" height="268.90" fill="#212c36" stroke="#000" stroke-width="1.5"/>
<rect x="743.50" y="622.30" width="14.10" height="13.40" fill="#7b9bb2" stroke="#000" stroke-width="1.5"/>
<text transform="translate(744.70,897.70) rotate(90)" font-size="22.40" fill="#000" stroke="#000" stroke-width="0.3">2B</text>
<rect x="762.30" y="622.30" width="43.80" height="268.90" fill="#212c36" stroke="#000" stroke-width="1.5"/>
<text transform="translate(777.00,897.70) rotate(90)" font-size="22.40" fill="#000" stroke="#000" stroke-width="0.3">2C</text>
<rect x="810.60" y="622.30" width="12.10" height="268.90" fill="#212c36" stroke="#000" stroke-width="1.5"/>
<rect x="810.60" y="622.30" width="12.10" height="186.70" fill="#7b9bb2" stroke="#000" stroke-width="1.5"/>
<rect x="810.60" y="622.30" width="12.10" height="109.50" fill="#a0cbea" stroke="#000" stroke-width="1.5"/>
<text transform="translate(806.10,897.70) rotate(90)" font-size="22.40" fill="#000" stroke="#000" stroke-width="0.3">3A</text>
<rect x="827.00" y="622.30" width="4.90" height="268.90" fill="#212c36" stroke="#000" stroke-width="1.5"/>
<text transform="translate(822.40,897.70) rotate(90)" font-size="22.40" fill="#000" stroke="#000" stroke-width="0.3">3B</text>
<rect x="835.90" y="622.30" width="25.00" height="268.90" fill="#212c36" stroke="#000" stroke-width="1.5"/>
<rect x="835.90" y="622.30" width="25.00" height="14.30" fill="#7b9bb2" stroke="#000" stroke-width="1.5"/>
<rect x="835.90" y="622.30" width="25.00" height="6.70" fill="#a0cbea" stroke="#000" stroke-width="1.5"/>
<text transform="translate(838.90,897.70) rotate(90)" font-size="22.40" fill="#000" stroke="#000" stroke-width="0.3">3C</text>
<rect x="865.60" y="622.30" width="60.60" height="268.90" fill="#212c36" stroke="#000" stroke-width="1.5"/>
<text transform="translate(883.10,897.70) rotate(90)" font-size="22.40" fill="#000" stroke="#000" stroke-width="0.3">3D</text>
<line x1="926.90" y1="621.30" x2="926.90" y2="892.20" stroke="#000" stroke-width="2.2" stroke-linecap="butt"/>
<line x1="926.90" y1="622.30" x2="939.50" y2="622.30" stroke="#000" stroke-width="2.2" stroke-linecap="butt"/>
<text transform="translate(962.00,642.91) rotate(-90)" font-size="23.30" font-weight="normal" font-style="normal" fill="#000" stroke="#000" stroke-width="0.3">1.00</text>
<line x1="926.90" y1="689.52" x2="939.50" y2="689.52" stroke="#000" stroke-width="2.2" stroke-linecap="butt"/>
<text transform="translate(962.00,709.67) rotate(-90)" font-size="23.30" font-weight="normal" font-style="normal" fill="#000" stroke="#000" stroke-width="0.3">0.95</text>
<line x1="926.90" y1="756.75" x2="939.50" y2="756.75" stroke="#000" stroke-width="2.2" stroke-linecap="butt"/>
<text transform="translate(962.00,776.92) rotate(-90)" font-size="23.30" font-weight="normal" font-style="normal" fill="#000" stroke="#000" stroke-width="0.3">0.90</text>
<line x1="926.90" y1="823.98" x2="939.50" y2="823.98" stroke="#000" stroke-width="2.2" stroke-linecap="butt"/>
<text transform="translate(962.00,844.12) rotate(-90)" font-size="23.30" font-weight="normal" font-style="normal" fill="#000" stroke="#000" stroke-width="0.3">0.85</text>
<line x1="926.90" y1="891.20" x2="939.50" y2="891.20" stroke="#000" stroke-width="2.2" stroke-linecap="butt"/>
<text transform="translate(962.00,911.37) rotate(-90)" font-size="23.30" font-weight="normal" font-style="normal" fill="#000" stroke="#000" stroke-width="0.3">0.80</text>
<text transform="translate(985.30,625.68) rotate(90)" font-size="28.26" font-weight="normal" font-style="normal" fill="#000" stroke="#000" stroke-width="0.3">Proportion of Variants</text>
<rect x="586.60" y="604.80" width="12.80" height="12.00" fill="#212c36"/>
<text x="604.22" y="616.80" font-size="17.10" font-weight="normal" font-style="normal" fill="#000" stroke="#000" stroke-width="0.3">Score &lt; 0</text>
<rect x="698.00" y="604.80" width="13.00" height="12.00" fill="#7b9bb2"/>
<text x="713.73" y="616.80" font-size="17.10" font-weight="normal" font-style="normal" fill="#000" stroke="#000" stroke-width="0.3">0 &lt; Score &gt; 2</text>
<rect x="834.60" y="604.80" width="13.40" height="12.00" fill="#a0cbea"/>
<text x="851.42" y="616.80" font-size="17.10" font-weight="normal" font-style="normal" fill="#000" stroke="#000" stroke-width="0.3">Score &gt; 2</text>
<text x="537.26" y="953.84" font-size="38" font-weight="bold" fill="#231f20" stroke="#231f20" stroke-width="0.3">f</text>
<text x="682.93" y="956.40" font-size="23.37" font-weight="bold" font-style="normal" fill="#a6191e" stroke="#a6191e" stroke-width="0.3">1 AA Deletion</text>
<text x="863.02" y="951.60" font-size="20.77" font-weight="normal" font-style="italic" fill="#000" stroke="#000" stroke-width="0.3">p-value = 6.2e-10</text>
<rect x="582.50" y="990.40" width="9.80" height="267.90" fill="#431d20" stroke="#000" stroke-width="1.5"/>
<rect x="582.50" y="990.40" width="9.80" height="58.00" fill="#c27f82" stroke="#000" stroke-width="1.5"/>
<rect x="582.50" y="990.40" width="9.80" height="38.80" fill="#fdd8d9" stroke="#000" stroke-width="1.5"/>
<text transform="translate(581.40,1266.10) rotate(90)" font-size="22.40" fill="#000" stroke="#000" stroke-width="0.3">VP4</text>
<rect x="597.70" y="990.40" width="33.90" height="267.90" fill="#431d20" stroke="#000" stroke-width="1.5"/>
<rect x="597.70" y="990.40" width="33.90" height="46.90" fill="#c27f82" stroke="#000" stroke-width="1.5"/>
<rect x="597.70" y="990.40" width="33.90" height="31.20" fill="#fdd8d9" stroke="#000" stroke-width="1.5"/>
<text transform="translate(609.70,1266.10) rotate(90)" font-size="22.40" fill="#000" stroke="#000" stroke-width="0.3">VP2</text>
<rect x="637.00" y="990.40" width="29.00" height="267.90" fill="#431d20" stroke="#000" stroke-width="1.5"/>
<rect x="637.00" y="990.40" width="29.00" height="37.50" fill="#c27f82" stroke="#000" stroke-width="1.5"/>
<rect x="637.00" y="990.40" width="29.00" height="24.50" fill="#fdd8d9" stroke="#000" stroke-width="1.5"/>
<text transform="translate(644.70,1266.10) rotate(90)" font-size="22.40" fill="#000" stroke="#000" stroke-width="0.3">VP3</text>
<rect x="671.40" y="990.40" width="39.30" height="267.90" fill="#431d20" stroke="#000" stroke-width="1.5"/>
<rect x="671.40" y="990.40" width="39.30" height="72.30" fill="#c27f82" stroke="#000" stroke-width="1.5"/>
<rect x="671.40" y="990.40" width="39.30" height="35.70" fill="#fdd8d9" stroke="#000" stroke-width="1.5"/>
<text transform="translate(682.50,1266.10) rotate(90)" font-size="22.40" fill="#000" stroke="#000" stroke-width="0.3">VP1</text>
<rect x="716.10" y="990.40" width="19.60" height="267.90" fill="#431d20" stroke="#000" stroke-width="1.5"/>
<rect x="716.10" y="990.40" width="19.60" height="150.90" fill="#c27f82" stroke="#000" stroke-width="1.5"/>
<rect x="716.10" y="990.40" width="19.60" height="103.60" fill="#fdd8d9" stroke="#000" stroke-width="1.5"/>
<text transform="translate(720.10,1266.10) rotate(90)" font-size="22.40" fill="#000" stroke="#000" stroke-width="0.3">2A</text>
<rect x="740.20" y="990.40" width="14.50" height="267.90" fill="#431d20" stroke="#000" stroke-width="1.5"/>
<text transform="translate(742.90,1266.10) rotate(90)" font-size="22.40" fill="#000" stroke="#000" stroke-width="0.3">2B</text>
<rect x="759.20" y="990.40" width="44.60" height="267.90" fill="#431d20" stroke="#000" stroke-width="1.5"/>
<rect x="759.20" y="990.40" width="44.60" height="2.90" fill="#fdd8d9" stroke="#000" stroke-width="1.5"/>
<text transform="translate(775.50,1266.10) rotate(90)" font-size="22.40" fill="#000" stroke="#000" stroke-width="0.3">2C</text>
<rect x="809.00" y="990.40" width="12.70" height="267.90" fill="#431d20" stroke="#000" stroke-width="1.5"/>
<rect x="809.00" y="990.40" width="12.70" height="110.30" fill="#c27f82" stroke="#000" stroke-width="1.5"/>
<rect x="809.00" y="990.40" width="12.70" height="62.50" fill="#fdd8d9" stroke="#000" stroke-width="1.5"/>
<text transform="translate(807.60,1266.10) rotate(90)" font-size="22.40" fill="#000" stroke="#000" stroke-width="0.3">3A</text>
<rect x="825.50" y="990.40" width="4.00" height="267.90" fill="#431d20" stroke="#000" stroke-width="1.5"/>
<rect x="825.50" y="990.40" width="4.00" height="61.20" fill="#fdd8d9" stroke="#000" stroke-width="1.5"/>
<text transform="translate(823.30,1266.10) rotate(90)" font-size="22.40" fill="#000" stroke="#000" stroke-width="0.3">3B</text>
<rect x="834.00" y="990.40" width="26.30" height="267.90" fill="#431d20" stroke="#000" stroke-width="1.5"/>
<text transform="translate(840.70,1266.10) rotate(90)" font-size="22.40" fill="#000" stroke="#000" stroke-width="0.3">3C</text>
<rect x="864.80" y="990.40" width="59.60" height="267.90" fill="#431d20" stroke="#000" stroke-width="1.5"/>
<rect x="864.80" y="990.40" width="59.60" height="5.30" fill="#c27f82" stroke="#000" stroke-width="1.5"/>
<text transform="translate(882.00,1266.10) rotate(90)" font-size="22.40" fill="#000" stroke="#000" stroke-width="0.3">3D</text>
<line x1="926.90" y1="989.40" x2="926.90" y2="1259.30" stroke="#000" stroke-width="2.2" stroke-linecap="butt"/>
<line x1="926.90" y1="989.80" x2="939.50" y2="989.80" stroke="#000" stroke-width="2.2" stroke-linecap="butt"/>
<text transform="translate(962.00,1010.41) rotate(-90)" font-size="23.30" font-weight="normal" font-style="normal" fill="#000" stroke="#000" stroke-width="0.3">1.00</text>
<line x1="926.90" y1="1057.20" x2="939.50" y2="1057.20" stroke="#000" stroke-width="2.2" stroke-linecap="butt"/>
<text transform="translate(962.00,1077.34) rotate(-90)" font-size="23.30" font-weight="normal" font-style="normal" fill="#000" stroke="#000" stroke-width="0.3">0.95</text>
<line x1="926.90" y1="1124.60" x2="939.50" y2="1124.60" stroke="#000" stroke-width="2.2" stroke-linecap="butt"/>
<text transform="translate(962.00,1144.77) rotate(-90)" font-size="23.30" font-weight="normal" font-style="normal" fill="#000" stroke="#000" stroke-width="0.3">0.90</text>
<line x1="926.90" y1="1192.00" x2="939.50" y2="1192.00" stroke="#000" stroke-width="2.2" stroke-linecap="butt"/>
<text transform="translate(962.00,1212.14) rotate(-90)" font-size="23.30" font-weight="normal" font-style="normal" fill="#000" stroke="#000" stroke-width="0.3">0.85</text>
<line x1="926.90" y1="1259.40" x2="939.50" y2="1259.40" stroke="#000" stroke-width="2.2" stroke-linecap="butt"/>
<text transform="translate(962.00,1279.57) rotate(-90)" font-size="23.30" font-weight="normal" font-style="normal" fill="#000" stroke="#000" stroke-width="0.3">0.80</text>
<text transform="translate(985.30,988.78) rotate(90)" font-size="28.26" font-weight="normal" font-style="normal" fill="#000" stroke="#000" stroke-width="0.3">Proportion of Variants</text>
<rect x="585.20" y="972.60" width="12.80" height="12.70" fill="#431d20"/>
<text x="602.82" y="985.30" font-size="17.10" font-weight="normal" font-style="normal" fill="#000" stroke="#000" stroke-width="0.3">Score &lt; 0</text>
<rect x="696.60" y="972.60" width="13.00" height="12.70" fill="#c27f82"/>
<text x="712.33" y="985.30" font-size="17.10" font-weight="normal" font-style="normal" fill="#000" stroke="#000" stroke-width="0.3">0 &lt; Score &gt; 2</text>
<rect x="833.20" y="972.60" width="13.40" height="12.70" fill="#fdd8d9"/>
<text x="850.02" y="985.30" font-size="17.10" font-weight="normal" font-style="normal" fill="#000" stroke="#000" stroke-width="0.3">Score &gt; 2</text>
<text x="538.79" y="1323.07" font-size="38" font-weight="bold" fill="#231f20" stroke="#231f20" stroke-width="0.3">g</text>
<text x="671.21" y="1333.50" font-size="23.57" font-weight="bold" font-style="normal" fill="#3a7d33" stroke="#3a7d33" stroke-width="0.3">AA Substitution</text>
<text x="863.02" y="1327.70" font-size="20.70" font-weight="normal" font-style="italic" fill="#000" stroke="#000" stroke-width="0.3">p-value &lt; 2.2e-16</text>
<rect x="584.30" y="1364.80" width="8.90" height="268.70" fill="#2a5e1f" stroke="#000" stroke-width="1.5"/>
<rect x="584.30" y="1364.80" width="8.90" height="103.70" fill="#549448" stroke="#000" stroke-width="1.5"/>
<rect x="584.30" y="1364.80" width="8.90" height="6.30" fill="#a2eb8e" stroke="#000" stroke-width="1.5"/>
<text transform="translate(582.50,1641.10) rotate(90)" font-size="22.40" fill="#000" stroke="#000" stroke-width="0.3">VP4</text>
<rect x="599.00" y="1364.80" width="33.50" height="268.70" fill="#2a5e1f" stroke="#000" stroke-width="1.5"/>
<rect x="599.00" y="1364.80" width="33.50" height="72.40" fill="#549448" stroke="#000" stroke-width="1.5"/>
<rect x="599.00" y="1364.80" width="33.50" height="4.50" fill="#a2eb8e" stroke="#000" stroke-width="1.5"/>
<text transform="translate(611.00,1641.10) rotate(90)" font-size="22.40" fill="#000" stroke="#000" stroke-width="0.3">VP2</text>
<rect x="637.90" y="1364.80" width="31.70" height="268.70" fill="#2a5e1f" stroke="#000" stroke-width="1.5"/>
<rect x="637.90" y="1364.80" width="31.70" height="57.70" fill="#549448" stroke="#000" stroke-width="1.5"/>
<rect x="637.90" y="1364.80" width="31.70" height="9.00" fill="#a2eb8e" stroke="#000" stroke-width="1.5"/>
<text transform="translate(649.70,1641.10) rotate(90)" font-size="22.40" fill="#000" stroke="#000" stroke-width="0.3">VP3</text>
<rect x="675.90" y="1364.80" width="38.40" height="268.70" fill="#2a5e1f" stroke="#000" stroke-width="1.5"/>
<rect x="675.90" y="1364.80" width="38.40" height="80.00" fill="#549448" stroke="#000" stroke-width="1.5"/>
<rect x="675.90" y="1364.80" width="38.40" height="19.70" fill="#a2eb8e" stroke="#000" stroke-width="1.5"/>
<text transform="translate(690.80,1641.10) rotate(90)" font-size="22.40" fill="#000" stroke="#000" stroke-width="0.3">VP1</text>
<rect x="719.70" y="1364.80" width="20.50" height="268.70" fill="#2a5e1f" stroke="#000" stroke-width="1.5"/>
<rect x="719.70" y="1364.80" width="20.50" height="211.70" fill="#549448" stroke="#000" stroke-width="1.5"/>
<rect x="719.70" y="1364.80" width="20.50" height="36.70" fill="#a2eb8e" stroke="#000" stroke-width="1.5"/>
<text transform="translate(721.20,1641.10) rotate(90)" font-size="22.40" fill="#000" stroke="#000" stroke-width="0.3">2A</text>
<rect x="744.70" y="1364.80" width="14.50" height="268.70" fill="#2a5e1f" stroke="#000" stroke-width="1.5"/>
<rect x="744.70" y="1364.80" width="14.50" height="103.70" fill="#549448" stroke="#000" stroke-width="1.5"/>
<rect x="744.70" y="1364.80" width="14.50" height="9.90" fill="#a2eb8e" stroke="#000" stroke-width="1.5"/>
<text transform="translate(748.00,1641.10) rotate(90)" font-size="22.40" fill="#000" stroke="#000" stroke-width="0.3">2B</text>
<rect x="763.60" y="1364.80" width="43.10" height="268.70" fill="#2a5e1f" stroke="#000" stroke-width="1.5"/>
<rect x="763.60" y="1364.80" width="43.10" height="71.50" fill="#549448" stroke="#000" stroke-width="1.5"/>
<rect x="763.60" y="1364.80" width="43.10" height="4.50" fill="#a2eb8e" stroke="#000" stroke-width="1.5"/>
<text transform="translate(780.00,1641.10) rotate(90)" font-size="22.40" fill="#000" stroke="#000" stroke-width="0.3">2C</text>
<rect x="811.70" y="1364.80" width="12.20" height="268.70" fill="#2a5e1f" stroke="#000" stroke-width="1.5"/>
<rect x="811.70" y="1364.80" width="12.20" height="159.50" fill="#549448" stroke="#000" stroke-width="1.5"/>
<rect x="811.70" y="1364.80" width="12.20" height="13.40" fill="#a2eb8e" stroke="#000" stroke-width="1.5"/>
<text transform="translate(809.40,1641.10) rotate(90)" font-size="22.40" fill="#000" stroke="#000" stroke-width="0.3">3A</text>
<rect x="829.10" y="1364.80" width="3.80" height="268.70" fill="#2a5e1f" stroke="#000" stroke-width="1.5"/>
<rect x="829.10" y="1364.80" width="3.80" height="217.50" fill="#549448" stroke="#000" stroke-width="1.5"/>
<rect x="829.10" y="1364.80" width="3.80" height="27.70" fill="#a2eb8e" stroke="#000" stroke-width="1.5"/>
<text transform="translate(825.50,1641.10) rotate(90)" font-size="22.40" fill="#000" stroke="#000" stroke-width="0.3">3B</text>
<rect x="837.30" y="1364.80" width="25.30" height="268.70" fill="#2a5e1f" stroke="#000" stroke-width="1.5"/>
<rect x="837.30" y="1364.80" width="25.30" height="76.90" fill="#549448" stroke="#000" stroke-width="1.5"/>
<rect x="837.30" y="1364.80" width="25.30" height="13.40" fill="#a2eb8e" stroke="#000" stroke-width="1.5"/>
<text transform="translate(842.90,1641.10) rotate(90)" font-size="22.40" fill="#000" stroke="#000" stroke-width="0.3">3C</text>
<rect x="867.50" y="1364.80" width="59.20" height="268.70" fill="#2a5e1f" stroke="#000" stroke-width="1.5"/>
<rect x="867.50" y="1364.80" width="59.20" height="104.50" fill="#549448" stroke="#000" stroke-width="1.5"/>
<rect x="867.50" y="1364.80" width="59.20" height="15.20" fill="#a2eb8e" stroke="#000" stroke-width="1.5"/>
<text transform="translate(886.50,1641.10) rotate(90)" font-size="22.40" fill="#000" stroke="#000" stroke-width="0.3">3D</text>
<line x1="927.30" y1="1363.80" x2="927.30" y2="1634.50" stroke="#000" stroke-width="2.2" stroke-linecap="butt"/>
<line x1="927.30" y1="1364.80" x2="939.50" y2="1364.80" stroke="#000" stroke-width="2.2" stroke-linecap="butt"/>
<text transform="translate(962.00,1378.93) rotate(-90)" font-size="23.30" font-weight="normal" font-style="normal" fill="#000" stroke="#000" stroke-width="0.3">1.0</text>
<line x1="927.30" y1="1418.58" x2="939.50" y2="1418.58" stroke="#000" stroke-width="2.2" stroke-linecap="butt"/>
<text transform="translate(962.00,1432.18) rotate(-90)" font-size="23.30" font-weight="normal" font-style="normal" fill="#000" stroke="#000" stroke-width="0.3">0.9</text>
<line x1="927.30" y1="1472.36" x2="939.50" y2="1472.36" stroke="#000" stroke-width="2.2" stroke-linecap="butt"/>
<text transform="translate(962.00,1486.00) rotate(-90)" font-size="23.30" font-weight="normal" font-style="normal" fill="#000" stroke="#000" stroke-width="0.3">0.8</text>
<line x1="927.30" y1="1526.14" x2="939.50" y2="1526.14" stroke="#000" stroke-width="2.2" stroke-linecap="butt"/>
<text transform="translate(962.00,1539.70) rotate(-90)" font-size="23.30" font-weight="normal" font-style="normal" fill="#000" stroke="#000" stroke-width="0.3">0.7</text>
<line x1="927.30" y1="1579.92" x2="939.50" y2="1579.92" stroke="#000" stroke-width="2.2" stroke-linecap="butt"/>
<text transform="translate(962.00,1593.56) rotate(-90)" font-size="23.30" font-weight="normal" font-style="normal" fill="#000" stroke="#000" stroke-width="0.3">0.6</text>
<line x1="927.30" y1="1633.70" x2="939.50" y2="1633.70" stroke="#000" stroke-width="2.2" stroke-linecap="butt"/>
<text transform="translate(962.00,1647.36) rotate(-90)" font-size="23.30" font-weight="normal" font-style="normal" fill="#000" stroke="#000" stroke-width="0.3">0.5</text>
<text transform="translate(985.30,1369.48) rotate(90)" font-size="28.26" font-weight="normal" font-style="normal" fill="#000" stroke="#000" stroke-width="0.3">Proportion of Variants</text>
<rect x="586.60" y="1346.90" width="12.80" height="12.50" fill="#2a5e1f"/>
<text x="604.22" y="1359.40" font-size="17.10" font-weight="normal" font-style="normal" fill="#000" stroke="#000" stroke-width="0.3">Score &lt; 0</text>
<rect x="698.00" y="1346.90" width="13.00" height="12.50" fill="#549448"/>
<text x="713.73" y="1359.40" font-size="17.10" font-weight="normal" font-style="normal" fill="#000" stroke="#000" stroke-width="0.3">0 &lt; Score &gt; 2</text>
<rect x="834.60" y="1346.90" width="13.40" height="12.50" fill="#a2eb8e"/>
<text x="851.42" y="1359.40" font-size="17.10" font-weight="normal" font-style="normal" fill="#000" stroke="#000" stroke-width="0.3">Score &gt; 2</text>
<text x="682.98" y="1715.80" font-size="28.28" font-weight="normal" font-style="normal" fill="#231f20" stroke="#231f20" stroke-width="0.3">Viral Protein</text>
</svg>
</body></html>
